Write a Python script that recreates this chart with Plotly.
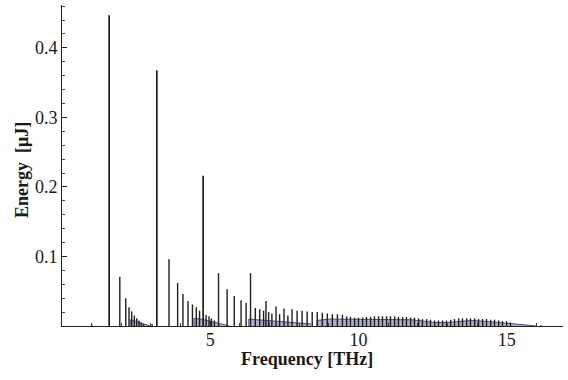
import plotly.graph_objects as go

# main peaks
peak_x = [1.59, 3.20, 4.76]
peak_y = [0.447, 0.368, 0.216]

# secondary black stems
stem_x = [1.01, 1.95, 2.15, 2.26, 2.35, 2.44, 2.52, 2.60, 2.67, 2.75, 3.04,
          3.61, 3.90, 4.08, 4.25, 4.40, 4.53, 4.64, 4.86, 4.96, 5.04, 5.14,
          5.28, 5.57, 5.81, 6.04, 6.21, 6.36, 6.52, 6.67, 6.80, 6.88, 6.97, 7.08,
          7.22, 7.34, 7.49, 7.62, 7.76, 7.93, 8.10, 8.27, 8.44, 8.61, 8.78, 8.95,
          9.12, 9.29, 9.46, 9.60, 9.73, 9.87, 10.00, 10.14, 10.27, 10.41, 10.54,
          10.68, 10.81, 10.95, 11.08, 11.22, 11.35, 11.49, 11.62, 11.76, 11.89,
          12.03, 12.16, 12.30, 12.43, 12.57, 12.70, 12.84, 12.97, 13.11, 13.24,
          13.38, 13.51, 13.65, 13.78, 13.92, 14.05, 14.19, 14.32, 14.46, 14.59,
          14.73, 14.86, 15.00, 15.13, 16.15]
stem_y = [0.002, 0.071, 0.040, 0.027, 0.021, 0.015, 0.011, 0.008, 0.005, 0.003, 0.003,
          0.096, 0.062, 0.046, 0.036, 0.031, 0.027, 0.022, 0.016, 0.014, 0.011, 0.008,
          0.076, 0.053, 0.043, 0.037, 0.033, 0.076, 0.026, 0.024, 0.022, 0.036, 0.020, 0.018,
          0.028, 0.017, 0.025, 0.015, 0.024, 0.022, 0.022, 0.021, 0.020, 0.020, 0.019, 0.018,
          0.017, 0.017, 0.016, 0.014, 0.013, 0.012, 0.012, 0.012, 0.013, 0.013, 0.014,
          0.014, 0.014, 0.014, 0.014, 0.014, 0.013, 0.013, 0.013, 0.012, 0.012,
          0.011, 0.010, 0.010, 0.009, 0.008, 0.008, 0.008, 0.008, 0.009, 0.010,
          0.011, 0.011, 0.011, 0.011, 0.011, 0.010, 0.010, 0.010, 0.009, 0.009,
          0.008, 0.007, 0.006, 0.005, 0.001]

# dense (navy) envelopes of closely spaced stems
env_segments = [
    ([2.30, 2.40, 2.55, 2.70, 2.85, 2.97], [0.009, 0.008, 0.006, 0.0035, 0.0012, 0.0]),
    ([4.45, 4.70, 4.90, 5.10, 5.30, 5.50, 5.65], [0.011, 0.010, 0.008, 0.006, 0.004, 0.0015, 0.0]),
    ([6.30, 6.60, 6.90, 7.20, 7.50, 7.80, 8.10, 8.40], [0.010, 0.009, 0.008, 0.007, 0.006, 0.005, 0.004, 0.003]),
    ([8.6, 9.0, 9.4, 9.8, 10.2, 10.6, 11.0, 11.4, 11.8, 12.2, 12.6, 13.0, 13.4, 13.8,
      14.2, 14.6, 15.0, 15.4, 15.8, 16.0],
     [0.008, 0.010, 0.010, 0.009, 0.009, 0.010, 0.010, 0.010, 0.009, 0.007, 0.005, 0.005,
      0.007, 0.008, 0.007, 0.006, 0.004, 0.0025, 0.001, 0.0]),
]

x_ticks = [5, 10, 15]
y_ticks = [0.1, 0.2, 0.3, 0.4]
y_tick_text = ["0.1", "0.2", "0.3", "0.4"]
x_title = "<b>Frequency [THz]</b>"
y_title = "<b>Energy  [μJ]</b>"


def stems(xs, ys):
    sx, sy = [], []
    for x, y in zip(xs, ys):
        sx += [x, x, None]
        sy += [0, y, None]
    return sx, sy


fig = go.Figure()
for ex, ey in env_segments:
    fig.add_trace(go.Scatter(x=[ex[0]] + ex, y=[0] + ey, mode="lines", fill="tozeroy",
                             line=dict(color="rgba(58,58,130,0.85)", width=1),
                             fillcolor="rgba(58,58,130,0.42)",
                             hoverinfo="skip", showlegend=False))

sx, sy = stems(stem_x, stem_y)
fig.add_trace(go.Scatter(x=sx, y=sy, mode="lines", line=dict(color="#1e1e1e", width=1.4),
                         showlegend=False))
px_, py_ = stems(peak_x, peak_y)
fig.add_trace(go.Scatter(x=px_, y=py_, mode="lines", line=dict(color="#111111", width=1.6),
                         showlegend=False))

font = dict(family="Liberation Serif, Times New Roman, serif", size=18, color="#1a1a1a")
fig.update_layout(
    width=568, height=380,
    margin=dict(l=62, r=5, t=5, b=54),
    paper_bgcolor="white", plot_bgcolor="white",
    font=font,
    xaxis=dict(range=[0, 16.9], tickvals=x_ticks, ticks="inside", ticklen=5, tickcolor="#222",
               showline=True, linecolor="#222", linewidth=1, showgrid=False, zeroline=False,
               minor=dict(dtick=1, ticks="inside", ticklen=3, tickcolor="#444", showgrid=False),
               tickfont=font, automargin=False, ticklabelstandoff=-3),
    yaxis=dict(range=[0, 0.4617], tickvals=y_ticks, ticktext=y_tick_text, ticks="inside",
               ticklen=5, tickcolor="#222",
               showline=True, linecolor="#222", linewidth=1, showgrid=False, zeroline=False,
               minor=dict(dtick=0.02, ticks="inside", ticklen=3, tickcolor="#444", showgrid=False),
               tickfont=font, automargin=False),
    annotations=[
        dict(text=x_title, xref="paper", yref="paper", x=0.489, y=-0.102,
             xanchor="center", yanchor="middle", showarrow=False, font=font),
        dict(text=y_title, xref="paper", yref="paper", x=-0.080, y=0.486, textangle=-90,
             xanchor="center", yanchor="middle", showarrow=False, font=font),
    ],
)
fig.write_html("out.html", config={"responsive": False, "displayModeBar": False},
               post_script="document.body.style.margin='0px';document.body.style.overflow='hidden';")
